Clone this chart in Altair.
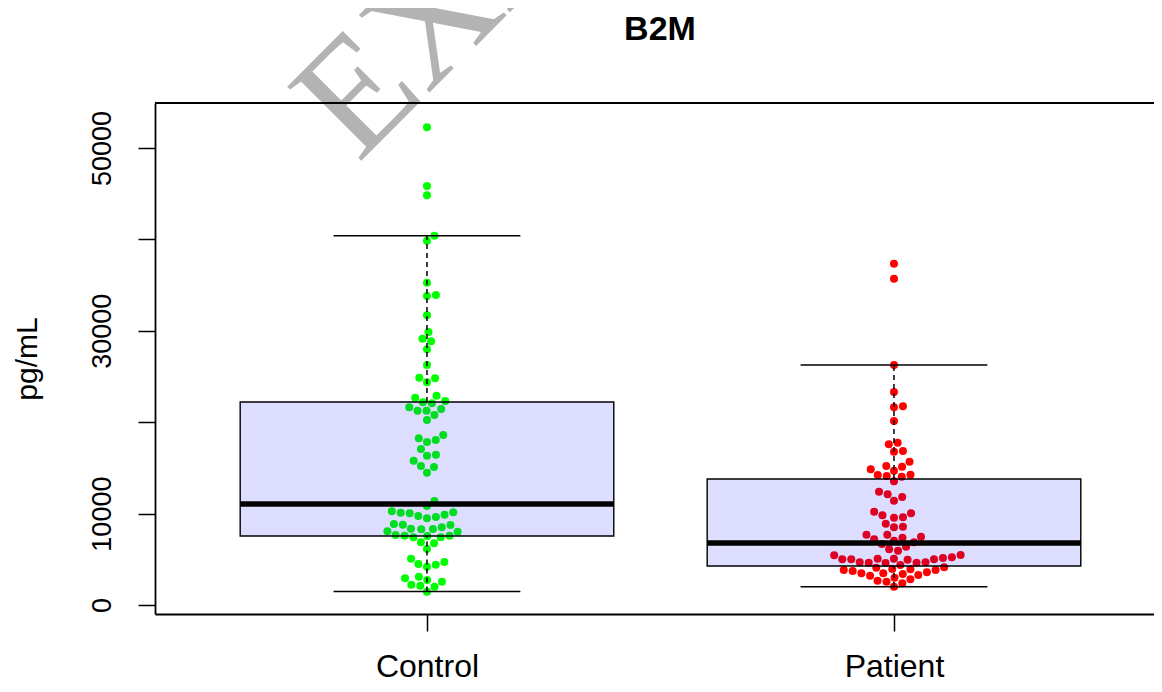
import altair as alt
import numpy as np
import pandas as pd

# ---------------- data ----------------
groups = ["Control", "Patient"]

control_values = [
    52265, 45842, 44825, 40405, 39858, 35263, 33807, 33917, 31696, 29869,
    29136, 28851, 27976, 26258, 24803, 24876, 24370, 22686, 22905, 22325,
    22067, 22177, 21630, 21265, 21265, 21444, 20788, 20241, 18600, 18236,
    18053, 17834, 17068, 16335, 16444, 15788, 15208, 15098, 14478, 11378,
    10831, 10098, 10033, 10252, 10142, 9880, 9737, 9486, 9628, 8862,
    8789, 8753, 8348, 8501, 8282, 8315, 8063, 8019, 7659, 7582,
    7549, 7403, 7403, 7582, 6853, 6743, 6127, 5066, 4705, 4413,
    4486, 4194, 2921, 3096, 2221, 2549, 2112, 2735, 2002, 1455,
]

patient_values = [
    37341, 35700, 26258, 23304, 21630, 21740, 20131, 17578, 17760, 16772,
    16849, 15678, 15208, 14843, 15131, 14223, 14040, 14697, 14113, 14256,
    13537, 12396, 12108, 11816, 11411, 10208, 10033, 9814, 9595, 9555,
    8899, 8570, 8500, 7691, 7691, 7472, 7363, 7184, 7031, 6856,
    6674, 6379, 6094, 5941, 5470, 5218, 5437, 5066, 5000, 5000,
    4672, 4628, 5000, 4376, 4628, 4595, 4672, 4956, 5066, 5142,
    4125, 3939, 3829, 3468, 3829, 3468, 3206, 3392, 3720, 3282,
    3574, 3903, 4085, 2987, 2659, 2549, 2374, 2812, 2002,
]

box_q1 = [7549, 4267]
box_median = [11050, 6783]
box_q3 = [22210, 13786]
whisker_low = [1480, 2000]
whisker_high = [40400, 26258]

group_colors = ["#00ff00", "#ff0000"]

# ---------------- layout constants ----------------
PX_X = 467.0                 # px per category unit
W, H = 999, 511
X_DOMAIN = [0.4176, 0.4176 + W / PX_X]
Y_DOMAIN = [-985, 54923]
PX_Y = H / (Y_DOMAIN[1] - Y_DOMAIN[0])
BOX_HALF = 0.4
CAP_HALF = 0.2
DOT = 9.0  # beeswarm spacing in px
FONT = "Liberation Sans"


def swarm_offsets(values):
    """Beeswarm 'swarm' layout (ascending priority), offsets in x-units."""
    vals = np.asarray(values, dtype=float)
    order = np.argsort(vals, kind="stable")
    px, py = [], []
    out = np.zeros(len(vals))
    for i in order:
        y = vals[i] * PX_Y
        cands = [0.0]
        for xj, yj in zip(px, py):
            dy = abs(y - yj)
            if dy < DOT:
                dx = np.sqrt(DOT * DOT - dy * dy)
                cands += [xj + dx, xj - dx]
        best = 0.0
        for c in sorted(cands, key=abs):
            if all((c - xj) ** 2 + (y - yj) ** 2 >= DOT * DOT - 1e-6
                   for xj, yj in zip(px, py)):
                best = c
                break
        px.append(best)
        py.append(y)
        out[i] = best / PX_X
    return out


rows = []
for gi, (g, vals) in enumerate(zip(groups, [control_values, patient_values])):
    offs = swarm_offsets(vals)
    for v, o in zip(vals, offs):
        rows.append({"group": g, "value": v, "xpos": gi + 1 + o})
points_df = pd.DataFrame(rows)

box_df = pd.DataFrame({
    "group": groups,
    "g": [1, 2],
    "q1": box_q1, "med": box_median, "q3": box_q3,
    "lo": whisker_low, "hi": whisker_high,
})
box_df["xl"] = box_df["g"] - BOX_HALF
box_df["xr"] = box_df["g"] + BOX_HALF
box_df["cl"] = box_df["g"] - CAP_HALF
box_df["cr"] = box_df["g"] + CAP_HALF

whisk_df = pd.concat([
    pd.DataFrame({"g": box_df["g"], "y1": box_df["q3"], "y2": box_df["hi"]}),
    pd.DataFrame({"g": box_df["g"], "y1": box_df["lo"], "y2": box_df["q1"]}),
])
caps_df = pd.concat([
    pd.DataFrame({"cl": box_df["cl"], "cr": box_df["cr"], "y": box_df["hi"]}),
    pd.DataFrame({"cl": box_df["cl"], "cr": box_df["cr"], "y": box_df["lo"]}),
])

xscale = alt.Scale(domain=X_DOMAIN, nice=False, zero=False)
yscale = alt.Scale(domain=Y_DOMAIN, nice=False, zero=False)

x_axis = alt.Axis(
    values=[1, 2],
    labelExpr="datum.value == 1 ? 'Control' : 'Patient'",
    labelFont=FONT, labelFontSize=32, labelColor="black",
    labelPadding=20, labelFlush=False,
    tickSize=17, tickColor="black", tickWidth=1.5,
    domain=True, domainColor="black", domainWidth=1.8,
    grid=False, title=None,
)
y_axis = alt.Axis(
    values=[0, 10000, 20000, 30000, 40000, 50000],
    format="d",
    labelExpr="(datum.value == 20000 || datum.value == 40000) ? '' : datum.label",
    labelFont=FONT, labelFontSize=27, labelColor="black",
    labelAngle=270, labelAlign="center", labelBaseline="bottom",
    labelPadding=22, labelOverlap=False,
    tickSize=17, tickColor="black", tickWidth=1.5,
    domain=True, domainColor="black", domainWidth=1.8,
    grid=False,
    title="pg/mL", titleFont=FONT, titleFontSize=30, titleFontWeight="normal",
    titleColor="black", titleAngle=270, titleAlign="center",
    titleBaseline="middle", titleX=-128, titleY=H / 2,
)


def X(field):
    return alt.X(field, type="quantitative", scale=xscale, axis=x_axis, title=None)


def Y(field):
    return alt.Y(field, type="quantitative", scale=yscale, axis=y_axis, title="pg/mL")


one = pd.DataFrame({"k": [0]})

watermark = alt.Chart(one).mark_text(
    text="EXAMPLE", font="Liberation Serif", fontSize=160, angle=315,
    align="left", baseline="alphabetic", color="#b3b3b3",
).encode(x=alt.value(358 - 155), y=alt.value(164 - 103))

pts = alt.Chart(points_df).mark_circle(size=64, opacity=1).encode(
    x=X("xpos"), y=Y("value"),
    color=alt.Color("group:N", scale=alt.Scale(domain=groups, range=group_colors), legend=None),
)

boxes = alt.Chart(box_df).mark_rect(
    fill="#0000ff", fillOpacity=0.133, stroke="black", strokeWidth=1.4,
).encode(x=X("xl"), x2="xr", y=Y("q1"), y2="q3")

whiskers = alt.Chart(whisk_df).mark_rule(
    color="black", strokeWidth=1.5, strokeDash=[5, 4],
).encode(x=X("g"), y=Y("y1"), y2="y2")

caps = alt.Chart(caps_df).mark_rule(color="black", strokeWidth=1.5).encode(
    x=X("cl"), x2="cr", y=Y("y"))

medians = alt.Chart(box_df).mark_rule(color="black", strokeWidth=5.5).encode(
    x=X("xl"), x2="xr", y=Y("med"))

top_frame = alt.Chart(one).mark_rule(color="black", strokeWidth=1.8).encode(
    x=alt.value(0), x2=alt.value(W), y=alt.value(0))

title = alt.Chart(one).mark_text(
    text="B2M", font=FONT, fontSize=34, fontWeight="bold", color="black",
    align="center", baseline="middle",
).encode(x=alt.value(660 - 155), y=alt.value(30 - 103))

chart = alt.layer(
    watermark, pts, boxes, whiskers, caps, medians, top_frame, title
).properties(
    width=W, height=H,
    autosize=alt.AutoSizeParams(type="none"),
    padding={"left": 147, "top": 95, "right": 0, "bottom": 70},
    background="white",
).configure_view(stroke=None)

chart.save("out.html", embed_options={"renderer": "svg", "actions": False})
